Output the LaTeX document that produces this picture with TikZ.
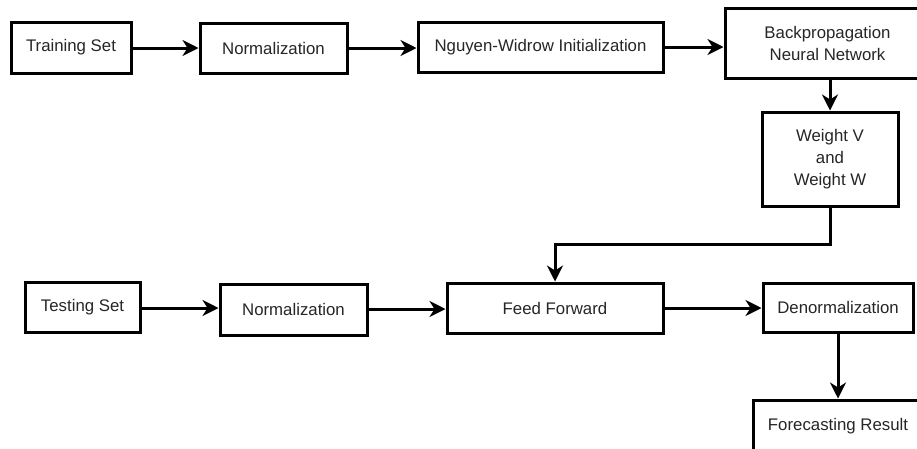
\documentclass[tikz,border=0pt]{standalone}
\usepackage{fontspec}
\setmainfont{Liberation Sans}
\usetikzlibrary{arrows.meta}
\begin{document}
\begin{tikzpicture}[x=1pt,y=-1pt,
  box/.style={draw=black,line width=3pt,fill=white,rectangle,inner sep=0pt,
    align=center,font=\fontsize{16.8}{22}\selectfont,text=black!85},
  flow/.style={line width=3pt,-{Stealth[length=16pt,width=16pt,inset=5pt]}}]
\clip (0,0) rectangle (917,448);
\fill[white] (0,0) rectangle (917,448);
% top row
\node[box,minimum width=120pt,minimum height=51pt] (ts) at (71,47.5) {Training Set};
\node[box,minimum width=147pt,minimum height=50pt] (n1) at (273.5,48) {Normalization};
\node[box,minimum width=245pt,minimum height=50pt] (nw) at (540.5,47) {Nguyen-Widrow Initialization};
\node[box,minimum width=205pt,minimum height=70pt] (bp) at (827.5,43) {Backpropagation\\Neural Network};
\node[box,minimum width=136pt,minimum height=94pt] (w) at (830,159) {Weight V\\and\\Weight W};
% bottom row
\node[box,minimum width=115pt,minimum height=50pt] (ts2) at (82.5,307) {Testing Set};
\node[box,minimum width=147pt,minimum height=51pt] (n2) at (293.5,309.5) {Normalization};
\node[box,minimum width=216pt,minimum height=50pt] (ff) at (555,308) {Feed Forward};
\node[box,minimum width=150pt,minimum height=49pt] (dn) at (838,307.5) {Denormalization};
\node[box,minimum width=170pt,minimum height=52pt] (fr) at (838,426) {Forecasting Result};
\coordinate (bend) at (830,244);
% connectors
\draw[flow] (ts.east |- 0,48) -- (n1.west |- 0,48);
\draw[flow] (n1.east) -- (nw.west |- n1.east);
\draw[flow] (nw.east) -- (nw.east -| bp.west);
\draw[flow] (w.north |- bp.south) -- (w.north);
\draw[flow] (w.south) -- (bend) -- (bend -| ff.north) -- (ff.north);
\draw[flow] (ts2.east |- 0,308) -- (n2.west |- 0,308);
\draw[flow] (n2.east |- 0,309) -- (ff.west |- 0,309);
\draw[flow] (ff.east) -- (dn.west |- ff.east);
\draw[flow] (dn.south) -- (fr.north);
\end{tikzpicture}
\end{document}
